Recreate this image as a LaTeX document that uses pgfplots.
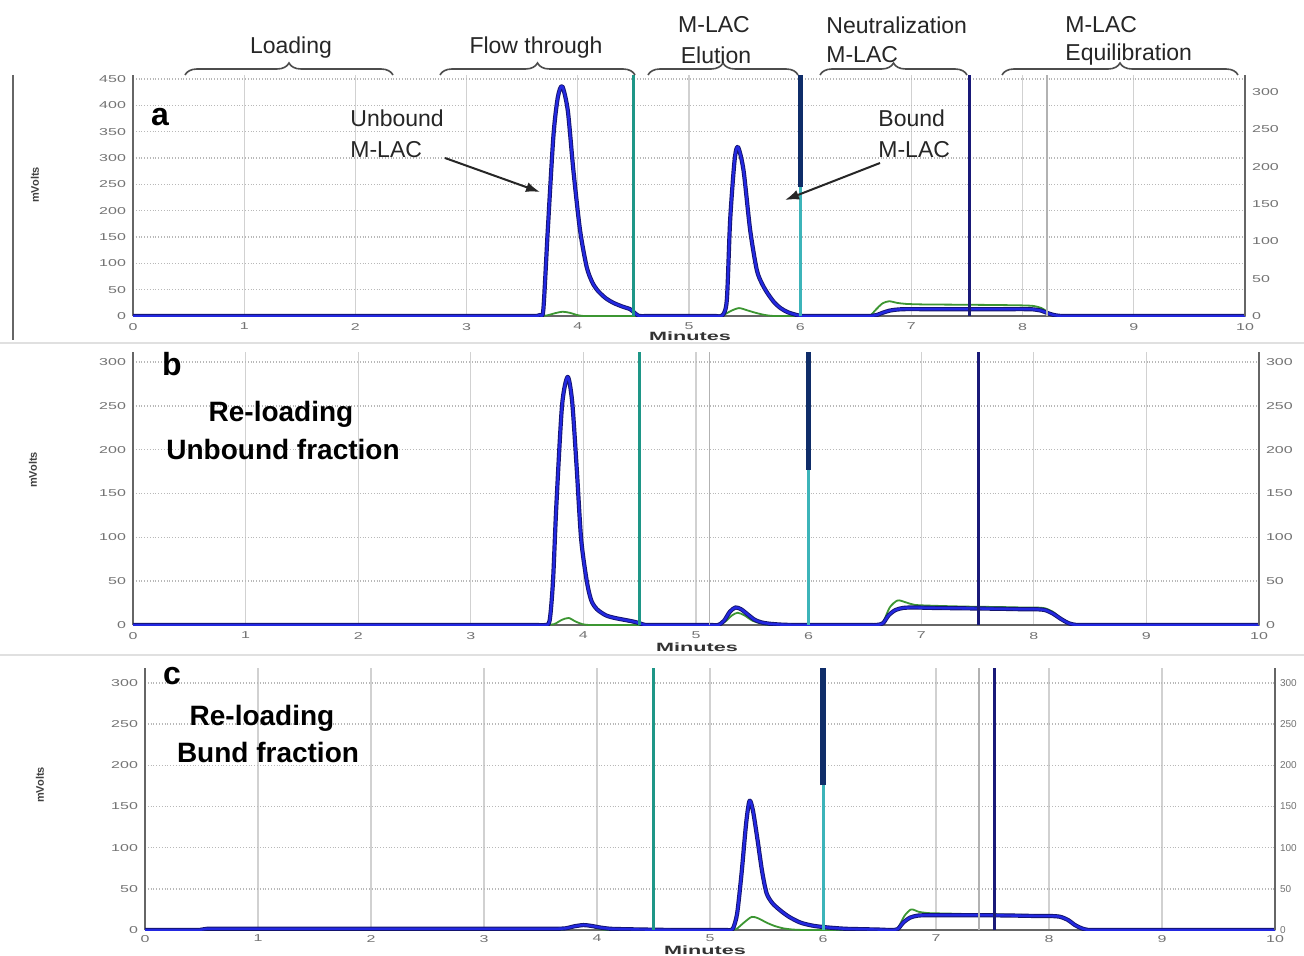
\documentclass[border=0pt]{standalone}
\usepackage{fontspec}
\setmainfont{Liberation Sans}
\usepackage{graphicx}
\usepackage{pgfplots}
\usepackage{pgfplotstable}
\pgfplotsset{compat=1.18}
\usetikzlibrary{decorations.pathreplacing,arrows.meta}

\definecolor{trace}{RGB}{35,40,225}
\definecolor{traceedge}{RGB}{20,20,110}
\definecolor{grn}{RGB}{60,150,50}
\definecolor{tealm}{RGB}{30,150,135}
\definecolor{cyanm}{RGB}{60,180,185}
\definecolor{navym}{RGB}{25,25,120}
\definecolor{darkseg}{RGB}{15,45,105}

\pgfplotsset{
  /pgf/number format/assume math mode=true,
  chrom/.style={
    scale only axis, anchor=south west,
    xmin=0, xmax=10, ymin=0,
    axis x line=bottom, axis y line=left,
    axis line style={-, draw=black!60, line width=0.9pt},
    xtick={0,...,10}, major tick length=0pt,
    xmajorgrids, ymajorgrids,
    major x grid style={draw=black!18, line width=0.6pt},
    major y grid style={draw=black!28, densely dotted, line width=0.7pt},
    xticklabel={\scalebox{1.6}[1]{\pgfmathprintnumber{\tick}}},
    yticklabel={\scalebox{1.6}[1]{\pgfmathprintnumber{\tick}}},
    tick label style={font=\fontsize{5}{6}\selectfont, text=black!55},
  },
  rchrom/.style={
    scale only axis, anchor=south west,
    xmin=0, xmax=10, ymin=0,
    axis x line=none, axis y line=right,
    axis line style={-, draw=black!60, line width=0.9pt},
    major tick length=0pt, ytick={0,50,...,300},
    yticklabel={\scalebox{1.6}[1]{\pgfmathprintnumber{\tick}}},
    tick label style={font=\fontsize{5}{6}\selectfont, text=black!55},
  },
  edgetr/.style={traceedge, line width=2.1pt, line join=round, smooth, tension=0.45},
  bluetr/.style={trace, line width=1.2pt, line join=round, smooth, tension=0.45},
  greentr/.style={grn, line width=0.9pt, line join=round, smooth, tension=0.45},
}

\pgfplotstableread{
x y
0 0
1.5 0
3.0 0
3.4 0
3.55 0
3.62 0
3.66 2
3.69 12
3.73 163
3.78 340
3.82 415
3.86 436
3.91 390
3.96 277
4.02 163
4.08 93
4.13 64
4.18 48
4.25 34
4.32 25
4.40 18
4.47 13
4.51 6
4.55 0
4.62 0
4.75 0
5.0 0
5.15 0
5.24 0
5.30 1
5.34 30
5.37 182
5.41 296
5.44 321
5.49 277
5.55 163
5.61 87
5.66 60
5.71 42
5.77 25
5.83 14
5.89 7
5.95 3
6.01 0
6.10 0
6.25 0
6.45 0
6.56 0
6.63 0
6.69 2
6.74 6
6.80 10
6.86 12
6.94 13
7.10 13
7.40 13
7.70 13
7.90 13
8.02 13
8.10 12.5
8.17 10
8.23 5
8.29 1.5
8.35 0
8.45 0
8.65 0
9.0 0
10 0
}\blueA
\pgfplotstableread{
x y
0 0
3.0 0
3.5 0
3.65 0
3.72 1
3.79 5
3.86 8
3.93 6
3.99 2
4.05 0
4.15 0
4.4 0
4.8 0
5.1 0
5.24 0
5.31 2
5.38 10
5.45 15
5.52 11
5.60 6
5.68 2
5.76 0
5.9 0
6.2 0
6.45 0
6.57 0
6.63 1
6.68 12
6.74 24
6.80 28
6.87 25
6.95 23
7.10 22
7.40 21.5
7.70 21
7.90 20.5
8.02 20
8.10 19
8.17 15
8.23 7
8.29 2
8.35 0
8.45 0
8.65 0
9.0 0
10 0
}\greenA
\pgfplotstableread{
x y
0 0
1.5 0
3.0 0
3.4 0
3.58 0
3.66 0
3.70 5
3.73 50
3.76 137
3.81 250
3.86 283
3.90 255
3.94 180
3.98 98
4.03 50
4.07 28
4.12 18
4.20 11
4.28 8
4.36 6
4.44 4
4.50 2
4.55 0
4.65 0
4.85 0
5.05 0
5.14 0
5.20 0
5.25 5
5.30 15
5.35 20
5.40 18
5.46 12
5.52 6
5.58 3
5.65 1.5
5.75 0.5
5.87 0
6.05 0
6.30 0
6.50 0
6.60 0
6.66 2
6.71 11
6.77 17
6.84 19.5
6.94 20
7.10 19.5
7.40 19
7.70 18.5
7.90 18
8.02 18
8.10 17
8.17 13
8.24 7
8.31 2
8.38 0
8.48 0
8.70 0
9.0 0
10 0
}\blueB
\pgfplotstableread{
x y
0 0
3.0 0
3.5 0
3.66 0
3.74 1
3.81 6
3.87 8
3.93 4
3.99 1
4.05 0
4.15 0
4.4 0
4.8 0
5.05 0
5.15 0
5.21 0
5.27 5
5.32 11
5.37 14
5.43 11
5.50 5
5.57 2
5.64 0
5.75 0
6.0 0
6.30 0
6.50 0
6.60 0
6.66 3
6.72 20
6.79 28
6.86 26
6.94 23
7.10 22
7.40 21
7.70 20.5
7.90 20
8.02 20
8.10 19
8.17 15
8.24 8
8.31 3
8.38 0.5
8.45 0
8.55 0
8.75 0
9.0 0
10 0
}\greenB
\pgfplotstableread{
x y
0 0
0.25 0
0.40 0
0.48 0
0.55 1.5
0.65 1.5
0.85 1.5
1.5 1.5
3.0 1.5
3.45 1.5
3.62 1.5
3.72 2
3.80 4.5
3.88 6
3.95 5
4.03 3
4.12 1.5
4.25 1
4.45 0.5
4.70 0
4.95 0
5.08 0
5.15 0
5.20 1
5.24 20
5.28 70
5.32 130
5.35 157
5.38 145
5.42 110
5.46 72
5.50 45
5.55 33
5.62 24
5.70 16
5.80 9
5.92 5
6.05 3
6.20 1.5
6.35 1
6.50 0.5
6.60 0
6.66 1
6.71 9
6.77 15
6.84 17.5
6.94 18
7.10 18
7.40 18
7.70 17.5
7.90 17
8.02 17
8.10 16
8.17 12
8.23 6
8.29 2
8.35 0
8.45 0
8.65 0
9.0 0
10 0
}\blueC
\pgfplotstableread{
x y
0 0
3.0 0
3.45 0
3.62 0
3.70 0.5
3.77 3
3.84 6
3.90 7
3.96 4
4.03 1
4.10 0
4.25 0
4.6 0
4.9 0
5.08 0
5.16 0
5.23 1
5.30 9
5.37 16
5.43 14
5.50 9
5.57 5
5.65 2
5.74 0.5
5.85 0
6.05 0
6.30 0
6.50 0
6.60 0
6.66 2
6.72 17
6.78 25
6.85 22
6.94 20.5
7.10 20
7.40 19
7.70 18.5
7.90 18
8.02 18
8.10 17
8.17 13
8.23 6
8.29 2
8.35 0
8.45 0
8.65 0
9.0 0
10 0
}\greenC

\begin{document}
\begin{tikzpicture}
\useasboundingbox (0pt,0pt) rectangle (652pt,477.5pt);
\clip (0pt,0pt) rectangle (652pt,477.5pt);
\fill[white] (0pt,0pt) rectangle (652pt,477.5pt);

% ---------------- Panel a ----------------
\begin{axis}[chrom, at={(66.5pt,319.5pt)}, width=556pt, height=120.5pt,
  ymax=457.6, ytick={0,50,...,450}]
\addplot[greentr] table {\greenA};
\addplot[edgetr] table {\blueA};
\addplot[bluetr] table {\blueA};
\addplot[black!30, line width=0.6pt] coordinates {(8.22,0) (8.22,457.6)};
\addplot[tealm, line width=1.5pt] coordinates {(4.5,0) (4.5,457.6)};
\addplot[cyanm, line width=1.5pt] coordinates {(6.0,0) (6.0,245)};
\addplot[darkseg, line width=2.6pt] coordinates {(6.0,245) (6.0,457.6)};
\addplot[navym, line width=1.6pt] coordinates {(7.52,0) (7.52,457.6)};
\end{axis}
\begin{axis}[rchrom, at={(66.5pt,319.5pt)}, width=556pt, height=120.5pt, ymax=322.7]
\end{axis}

% ---------------- Panel b ----------------
\begin{axis}[chrom, at={(66.5pt,165pt)}, width=563pt, height=136.5pt,
  ymax=311.4, ytick={0,50,...,300}]
\addplot[greentr] table {\greenB};
\addplot[edgetr] table {\blueB};
\addplot[bluetr] table {\blueB};
\addplot[black!30, line width=0.6pt] coordinates {(5.12,0) (5.12,311.4)};
\addplot[tealm, line width=1.5pt] coordinates {(4.5,0) (4.5,311.4)};
\addplot[cyanm, line width=1.5pt] coordinates {(6.0,0) (6.0,177)};
\addplot[darkseg, line width=2.6pt] coordinates {(6.0,177) (6.0,311.4)};
\addplot[navym, line width=1.6pt] coordinates {(7.51,0) (7.51,311.4)};
\end{axis}
\begin{axis}[rchrom, at={(66.5pt,165pt)}, width=563pt, height=136.5pt, ymax=311.4]
\end{axis}

% ---------------- Panel c ----------------
\begin{axis}[chrom, at={(72.5pt,12.5pt)}, width=565pt, height=131pt,
  ymax=318.2, ytick={0,50,...,300}, xticklabel style={yshift=1pt}]
\addplot[greentr] table {\greenC};
\addplot[edgetr] table {\blueC};
\addplot[bluetr] table {\blueC};
\addplot[black!30, line width=0.6pt] coordinates {(7.38,0) (7.38,318.2)};
\addplot[tealm, line width=1.5pt] coordinates {(4.5,0) (4.5,318.2)};
\addplot[cyanm, line width=1.5pt] coordinates {(6.0,0) (6.0,176)};
\addplot[darkseg, line width=2.6pt] coordinates {(6.0,176) (6.0,318.2)};
\addplot[navym, line width=1.6pt] coordinates {(7.52,0) (7.52,318.2)};
\end{axis}
\begin{axis}[rchrom, at={(72.5pt,12.5pt)}, width=565pt, height=131pt, ymax=318.2,
  yticklabel={\pgfmathprintnumber{\tick}}, yticklabel style={xshift=-1pt}]
\end{axis}

\begin{scope}[x=0.5pt,y=0.5pt]
% separators and frame
\draw[black!12, line width=0.6pt] (0,612) -- (1304,612);
\draw[black!12, line width=0.6pt] (0,300) -- (1304,300);
\draw[black!60, line width=0.8pt] (13,880) -- (13,615);

% ---------------- Braces and phase labels ----------------
\begin{scope}[black!70, line width=0.8pt, decoration={brace, amplitude=6pt}]
\draw[decorate] (185,880) -- (393,880);
\draw[decorate] (440,880) -- (635,880);
\draw[decorate] (648,880) -- (798,880);
\draw[decorate] (820,880) -- (967,880);
\draw[decorate] (1002,880) -- (1238,880);
\end{scope}
\begin{scope}[font=\fontsize{11.5}{12}\selectfont, text=black!85, inner sep=0pt]
\node at (291,907) {Loading};
\node at (536,907) {Flow through};
\node at (714,930) {M-LAC};
\node at (716,900) {Elution};
\node[anchor=west] at (826,930) {Neutralization};
\node[anchor=west] at (826,900) {M-LAC};
\node[anchor=west] at (1065,930) {M-LAC};
\node[anchor=west] at (1065,900) {Equilibration};
% annotations panel a
\node[anchor=west] at (350,837) {Unbound};
\node[anchor=west] at (350,805) {M-LAC};
\node[anchor=west] at (878,837) {Bound};
\node[anchor=west] at (878,805) {M-LAC};
\end{scope}
\draw[black!85, line width=1pt, -{Latex[length=7pt,width=5pt]}] (445,797) -- (540,763);
\draw[black!85, line width=1pt, -{Latex[length=7pt,width=5pt]}] (880,792) -- (785,755);

% panel letters
\node[font=\fontsize{16}{16}\selectfont\bfseries] at (160,838) {a};
\node[font=\fontsize{16}{16}\selectfont\bfseries] at (172,591) {b};
\node[font=\fontsize{16}{16}\selectfont\bfseries] at (172,279) {c};

% reloading notes
\begin{scope}[font=\fontsize{14}{14}\selectfont\bfseries, inner sep=0pt]
\node at (281,541) {Re-loading};
\node at (283,506) {Unbound fraction};
\node at (262,237) {Re-loading};
\node at (268,203) {Bund fraction};
\end{scope}

% y labels
\begin{scope}[font=\fontsize{5.5}{6}\selectfont\bfseries, text=black!75]
\node[rotate=90] at (35,770) {mVolts};
\node[rotate=90] at (33,485) {mVolts};
\node[rotate=90] at (40,170) {mVolts};
\end{scope}

% x labels
\begin{scope}[font=\fontsize{6}{7}\selectfont\bfseries, text=black!80, inner sep=0pt]
\node at (690,619) {\scalebox{1.8}[1]{Minutes}};
\node at (697,308) {\scalebox{1.8}[1]{Minutes}};
\node at (705,5) {\scalebox{1.8}[1]{Minutes}};
\end{scope}
\end{scope}
\end{tikzpicture}
\end{document}
